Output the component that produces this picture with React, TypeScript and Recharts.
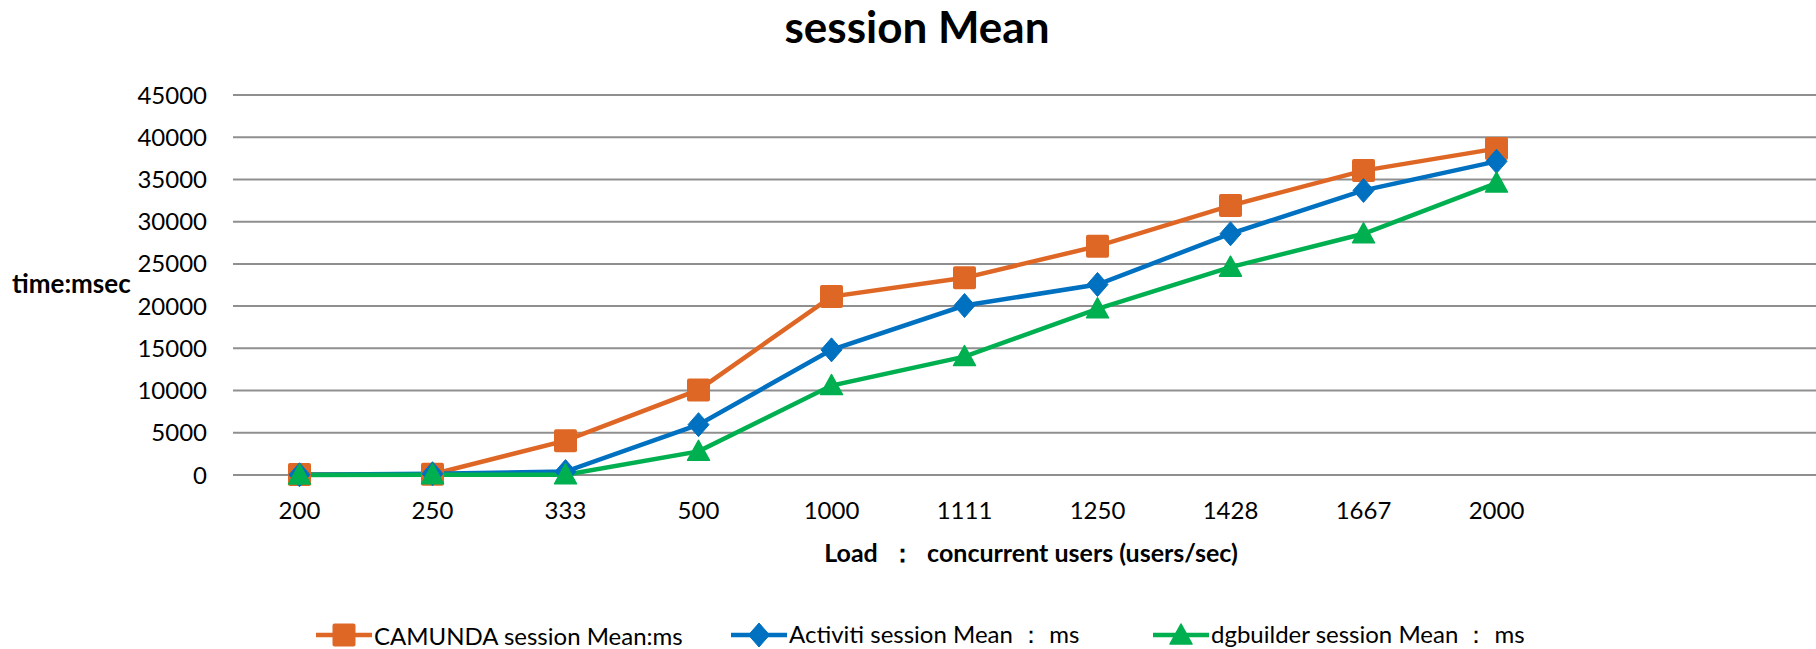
import React from 'react';
import { LineChart, Line, XAxis, YAxis, CartesianGrid, Legend } from 'recharts';

const categories = ['200', '250', '333', '500', '1000', '1111', '1250', '1428', '1667', '2000', ' ', '  '];
const camunda = [50, 100, 4070, 10080, 21130, 23350, 27100, 31900, 36050, 38650];
const activiti = [30, 150, 400, 5960, 14820, 20070, 22560, 28570, 33700, 37140];
const dgbuilder = [0, 20, 30, 2800, 10590, 14020, 19680, 24610, 28570, 34570];
const yTicks = [0, 5000, 10000, 15000, 20000, 25000, 30000, 35000, 40000, 45000];

const seriesNames = ['CAMUNDA session Mean:ms', 'Activiti session Mean ： ms', 'dgbuilder session Mean ： ms'];
const ORANGE = '#DF6726';
const BLUE = '#0070C0';
const GREEN = '#00B050';
const GRID = '#8F8F8F';
const FONT = 'Lato, "Open Sans", sans-serif';

const data = categories.map((c, i) => ({
  load: c,
  camunda: i < camunda.length ? camunda[i] : null,
  activiti: i < activiti.length ? activiti[i] : null,
  dgbuilder: i < dgbuilder.length ? dgbuilder[i] : null,
}));

const square = (cx: number, cy: number, color: string, key?: any) => (
  <rect key={key} x={cx - 11.5} y={cy - 11.5} width={23} height={23} rx={2} fill={color} />
);
const diamond = (cx: number, cy: number, color: string, key?: any) => (
  <polygon key={key} points={`${cx},${cy - 12} ${cx + 10.5},${cy} ${cx},${cy + 12} ${cx - 10.5},${cy}`} fill={color} strokeLinejoin="round" stroke={color} strokeWidth={1} />
);
const triangle = (cx: number, cy: number, color: string, key?: any) => (
  <polygon key={key} points={`${cx},${cy - 11} ${cx + 11},${cy + 9} ${cx - 11},${cy + 9}`} fill={color} strokeLinejoin="round" stroke={color} strokeWidth={1.5} />
);

const makeDot = (shape: (cx: number, cy: number, c: string, k?: any) => any, color: string) => (props: any) => {
  const { cx, cy, index } = props;
  if (cx == null || cy == null || props.value == null) return <g key={`e-${index}`} />;
  return shape(cx, cy, color, `d-${index}`);
};

const legendItems = [
  { name: seriesNames[0], color: ORANGE, shape: square, left: 316 },
  { name: seriesNames[1], color: BLUE, shape: diamond, left: 731 },
  { name: seriesNames[2], color: GREEN, shape: triangle, left: 1153 },
];

const LegendContent = () => (
  <div style={{ position: 'relative', width: 1816, height: 34 }}>
    {legendItems.map((it) => (
      <div key={it.name} style={{ position: 'absolute', left: it.left, top: 0, height: 34, display: 'flex', alignItems: 'center' }}>
        <svg width={56} height={34} style={{ display: 'block' }}>
          <line x1={0} y1={17} x2={56} y2={17} stroke={it.color} strokeWidth={4.5} />
          {it.shape(28, 17, it.color)}
        </svg>
        <span style={{ fontFamily: FONT, fontSize: 24, color: '#000', marginLeft: 2, whiteSpace: 'nowrap' }}>{it.name}</span>
      </div>
    ))}
  </div>
);

export default function App() {
  return (
    <div style={{ position: 'absolute', left: 0, top: 0, width: 1816, height: 649, overflow: 'hidden', background: '#fff' }}>
      <LineChart
        width={1840}
        height={649}
        data={data}
        margin={{ top: 95, right: 11, bottom: 80, left: 0 }}
      >
        <CartesianGrid horizontal={true} vertical={false} stroke={GRID} strokeWidth={2} />
        <XAxis
          dataKey="load"
          type="category"
          scale="band"
          interval={0}
          axisLine={false}
          tickLine={false}
          tickSize={0}
          tickMargin={27}
          height={60}
          tick={{ fill: '#000', fontSize: 24, fontFamily: FONT }}
        />
        <YAxis
          domain={[0, 45000]}
          ticks={yTicks}
          interval={0}
          width={233}
          axisLine={false}
          tickLine={false}
          tickSize={0}
          tickMargin={26}
          tick={{ fill: '#000', fontSize: 24, fontFamily: FONT }}
        />
        <Legend
          verticalAlign="bottom"
          content={<LegendContent />}
          wrapperStyle={{ position: 'absolute', top: 618, left: 0, bottom: 'auto', width: 1816, height: 34 }}
        />
        <Line name={seriesNames[0]} dataKey="camunda" stroke={ORANGE} strokeWidth={4.5} dot={makeDot(square, ORANGE)} activeDot={false} isAnimationActive={false} />
        <Line name={seriesNames[1]} dataKey="activiti" stroke={BLUE} strokeWidth={4.5} dot={makeDot(diamond, BLUE)} activeDot={false} isAnimationActive={false} />
        <Line name={seriesNames[2]} dataKey="dgbuilder" stroke={GREEN} strokeWidth={4.5} dot={makeDot(triangle, GREEN)} activeDot={false} isAnimationActive={false} />
      </LineChart>
      <svg width={1816} height={649} style={{ position: 'absolute', left: 0, top: 0, pointerEvents: 'none' }}>
        <text x={917} y={43} textAnchor="middle" fontFamily={FONT} fontWeight="bold" fontSize={44} fill="#000">session Mean</text>
        <text x={12} y={293} textAnchor="start" fontFamily={FONT} fontWeight="bold" fontSize={26} fill="#000">time:msec</text>
        <text x={1031} y={562} textAnchor="middle" fontFamily={FONT} fontWeight="bold" fontSize={25} fill="#000" xmlSpace="preserve">Load  ：  concurrent users (users/sec)</text>
      </svg>
    </div>
  );
}
